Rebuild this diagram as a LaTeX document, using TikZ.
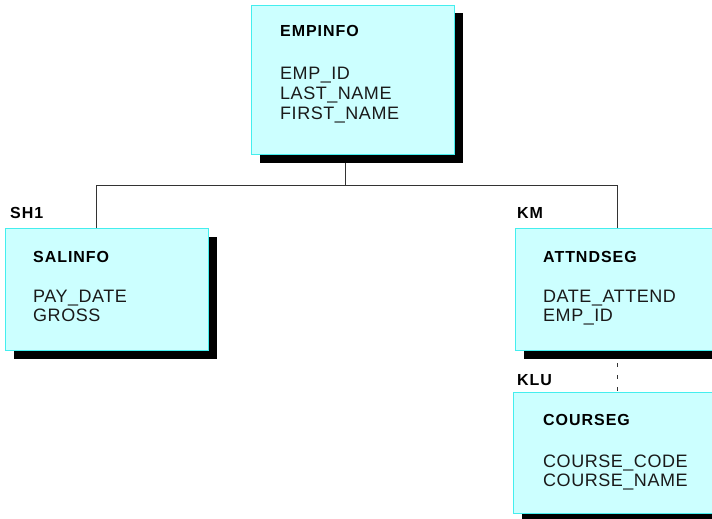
\documentclass[tikz,border=0pt]{standalone}
\usepackage{fontspec}
\setmainfont{Liberation Sans}
\newfontfamily\labfont[LetterSpace=6]{Liberation Sans}
\newfontfamily\fieldfont[LetterSpace=3]{Liberation Sans}
\usetikzlibrary{shadows}
\definecolor{boxfill}{HTML}{CCFFFF}
\definecolor{boxline}{HTML}{44EEEE}
\definecolor{linegray}{HTML}{333333}
\definecolor{txt}{HTML}{1A1A1A}
\pgfdeclarelayer{bg}
\pgfsetlayers{bg,main}
\tikzset{
  seg/.style={draw=boxline, line width=1pt, fill=boxfill, minimum width=203pt,
    inner sep=0pt, anchor=north west,
    drop shadow={shadow xshift=8pt, shadow yshift=-8pt, fill=black, opacity=1}},
  segtitle/.style={anchor=base west, inner sep=0pt, text=black,
    font=\labfont\bfseries\fontsize{16}{19}\selectfont},
  field/.style={anchor=base west, inner sep=0pt, text=txt,
    font=\fieldfont\fontsize{18}{20}\selectfont},
  keylab/.style={anchor=base west, inner sep=0pt, text=black,
    font=\labfont\bfseries\fontsize{16}{19}\selectfont},
  conn/.style={draw=linegray, line width=1pt},
}
\begin{document}
\begin{tikzpicture}[x=1pt,y=-1pt]
\useasboundingbox (0,0) rectangle (712,519);
\clip (0,0) rectangle (712,519);
% segments
\node[seg, minimum height=149pt] (emp) at (251,5) {};
\node[seg, minimum height=122pt] (sal) at (5,228) {};
\node[seg, minimum height=122pt] (att) at (515,228) {};
\node[seg, minimum height=121pt] (crs) at (513,392) {};
% EMPINFO
\node[segtitle] (empt) at (280,37) {EMPINFO};
\node[field] (emp1) at (280,80) {EMP\_ID};
\node[field] (emp2) at (280,99.5) {LAST\_NAME};
\node[field] (emp3) at (280,119) {FIRST\_NAME};
% SALINFO
\node[segtitle] (salt) at (33,262) {SALINFO};
\node[field] (sal1) at (33,302) {PAY\_DATE};
\node[field] (sal2) at (33,321.5) {GROSS};
% ATTNDSEG
\node[segtitle] (attt) at (543,262) {ATTNDSEG};
\node[field] (att1) at (543,302) {DATE\_ATTEND};
\node[field] (att2) at (543,321.5) {EMP\_ID};
% COURSEG
\node[segtitle] (crst) at (543,425) {COURSEG};
\node[field] (crs1) at (543,467) {COURSE\_CODE};
\node[field] (crs2) at (543,486.5) {COURSE\_NAME};
% key labels
\node[keylab] (sh1) at (10,218) {SH1};
\node[keylab] (km) at (517,218) {KM};
\node[keylab] (klu) at (517,385) {KLU};
% connectors
\begin{pgfonlayer}{bg}
\coordinate (j) at (345,185);
\draw[conn] (emp.south -| j) -- (j);
\draw[conn] (j) -| ([xshift=-10.5pt]sal.north);
\draw[conn] (j) -| (att.north);
\draw[conn, dash pattern=on 4pt off 8pt] (att.south) -- (att.south |- crs.north);
\end{pgfonlayer}
\end{tikzpicture}
\end{document}
